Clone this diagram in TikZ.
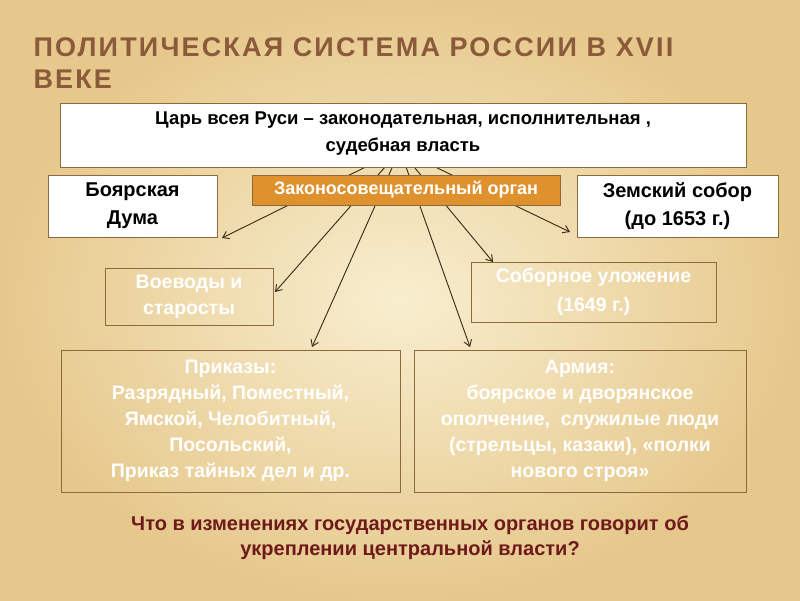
\documentclass[tikz,border=0pt]{standalone}
\usepackage{fontspec}
\setmainfont{Liberation Sans}
\usetikzlibrary{arrows.meta}
\definecolor{bgin}{HTML}{F8EECF}
\definecolor{bgout}{HTML}{E6C88C}
\definecolor{titlec}{HTML}{8A5A3A}
\definecolor{orangec}{HTML}{DE912C}
\definecolor{framec}{HTML}{8C6A3E}
\definecolor{qc}{HTML}{6E1A1A}
\begin{document}
\begin{tikzpicture}[x=1pt,y=-1pt,
  box/.style={draw=framec,line width=0.8pt,align=center,inner sep=1pt},
  wbox/.style={box,fill=white},
  ghost/.style={box,text=white},
  arr/.style={draw=black!70!brown,line width=0.9pt,-{Straight Barb[length=6pt,width=8pt]}},
  txt/.style={font=\bfseries\fontsize{19.5}{26}\selectfont}]
\useasboundingbox (0,0) rectangle (800,600);
\shade[inner color=bgin,outer color=bgout] (0,0) rectangle (800,600);
\node[anchor=west,text=titlec,font=\bfseries\fontsize{27}{30}\selectfont\addfontfeature{LetterSpace=8}] (t1) at (30,47) {ПОЛИТИЧЕСКАЯ СИСТЕМА РОССИИ В XVII};
\node[anchor=west,text=titlec,font=\bfseries\fontsize{27}{30}\selectfont\addfontfeature{LetterSpace=8}] (t2) at (30,79) {ВЕКЕ};
\coordinate (o) at (400,150);
\draw[arr] (o) -- (222,238) coordinate (e1);
\draw[arr] (o) -- (275,292) coordinate (e2);
\draw[arr] (o) -- (312,347) coordinate (e3);
\draw[arr] (o) -- (470,347) coordinate (e4);
\draw[arr] (o) -- (493,262) coordinate (e5);
\draw[arr] (o) -- (570,232) coordinate (e6);
\node[wbox,font=\bfseries\fontsize{18.5}{27}\selectfont,minimum width=686pt,minimum height=64pt,text depth=6pt] (tsar) at (403,135) {Царь всея Руси – законодательная, исполнительная ,\\судебная власть};
\node[wbox,font=\bfseries\fontsize{20}{28}\selectfont,minimum width=169pt,minimum height=62pt] (duma) at (132.5,206) {Боярская\\Дума};
\node[box,fill=orangec,text=white,font=\bfseries\fontsize{18}{20}\selectfont,minimum width=308pt,minimum height=30pt] (org) at (406,190) {Законосовещательный орган};
\node[wbox,font=\bfseries\fontsize{20}{28}\selectfont,minimum width=201pt,minimum height=62pt] (zem) at (677.5,206) {Земский собор\\(до 1653 г.)};
\node[ghost,txt,minimum width=168pt,minimum height=57pt] (voev) at (189,296.5) {Воеводы и\\старосты};
\node[ghost,font=\bfseries\fontsize{19.5}{29}\selectfont,minimum width=245pt,minimum height=60pt] (sob) at (593.5,292) {Соборное уложение\\(1649 г.)};
\node[ghost,txt,minimum width=339pt,minimum height=142pt] (prik) at (230.5,421) {Приказы:\\Разрядный, Поместный,\\Ямской, Челобитный,\\Посольский,\\Приказ тайных дел и др.};
\node[ghost,txt,minimum width=332pt,minimum height=142pt] (arm) at (580,421) {Армия:\\боярское и дворянское\\ополчение,\ \ служилые люди\\(стрельцы, казаки), «полки\\нового строя»};
\node[text=qc,align=center,font=\bfseries\fontsize{20}{25}\selectfont] (q) at (410,538) {Что в изменениях государственных органов говорит об\\укреплении центральной власти?};
\end{tikzpicture}
\end{document}
